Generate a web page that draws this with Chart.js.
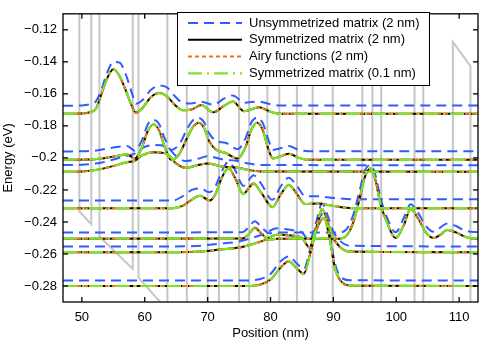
<!DOCTYPE html>
<html>
<head>
<meta charset="utf-8">
<script src="https://cdn.jsdelivr.net/npm/chart.js@4.4.1/dist/chart.umd.min.js"></script>
<style>
  html, body { margin: 0; padding: 0; background: #fff; }
  #wrap { width: 485px; height: 341px; }
</style>
</head>
<body>
<div id="wrap"><canvas id="chart" width="485" height="341"></canvas></div>
<script>
// axis ticks
const xTicks = [50, 60, 70, 80, 90, 100, 110];
const xTickLabels = ['50', '60', '70', '80', '90', '100', '110'];
const yTicks = [-0.28, -0.26, -0.24, -0.22, -0.2, -0.18, -0.16, -0.14, -0.12];
const yTickLabels = ['\u22120.28', '\u22120.26', '\u22120.24', '\u22120.22', '\u22120.2', '\u22120.18', '\u22120.16', '\u22120.14', '\u22120.12'];

const seriesNames = ['Unsymmetrized matrix (2 nm)', 'Symmetrized matrix (2 nm)', 'Airy functions (2 nm)', 'Symmetrized matrix (0.1 nm)'];

// conduction band profile (vertices)
const potX = [47, 49.6, 49.6, 51.5, 51.5, 52.8, 52.8, 58.1, 58.1, 59.0, 59.0, 63.6, 63.6, 66.7, 66.7, 70.0, 70.0, 71.8, 71.8, 75.0, 75.0, 76.6, 76.6, 79.5, 79.5, 81.4, 81.4, 84.2, 84.2, 86.7, 86.7, 89.9, 89.9, 94.6, 94.6, 96.2, 96.2, 97.6, 97.6, 102.9, 102.9, 104.3, 104.3, 109.0, 109.0, 111.8, 111.8, 113];
const potY = [0.05, 0.04, -0.2335, -0.2414, 0.03, 0.03, -0.2491, -0.2693, 0.01, 0.01, -0.2748, -0.2950, 0.0, 0.0, -0.31, -0.32, -0.01, -0.01, -0.33, -0.34, -0.02, -0.02, -0.35, -0.36, -0.03, -0.03, -0.37, -0.38, -0.04, -0.05, -0.39, -0.40, -0.06, -0.07, -0.42, -0.43, -0.08, -0.08, -0.44, -0.46, -0.10, -0.10, -0.47, -0.49, -0.1275, -0.1427, -0.50, -0.51];

// states: position, fine/symmetrized/airy curve, unsymmetrized curve
const s1X = [47, 50, 51.5, 52.2, 53.0, 54.0, 55.0, 56.0, 57.0, 58.0, 58.6, 59.6, 61.0, 62.3, 63.6, 64.8, 66.0, 67.3, 69.0, 70.9, 72.6, 74.0, 75.8, 78.2, 80.0, 81.5, 113];
const s1Y = [-0.1725, -0.1723, -0.1712, -0.1695, -0.1615, -0.1505, -0.1447, -0.1490, -0.1580, -0.1680, -0.1718, -0.1690, -0.1620, -0.1595, -0.1618, -0.1670, -0.1702, -0.1700, -0.1670, -0.1715, -0.1675, -0.1648, -0.1708, -0.1684, -0.1712, -0.1725, -0.1725];
const s1U = [-0.1675, -0.1672, -0.1662, -0.1648, -0.1585, -0.1470, -0.1400, -0.1405, -0.1480, -0.1600, -0.1662, -0.1640, -0.1575, -0.1548, -0.1562, -0.1615, -0.1655, -0.1660, -0.1650, -0.1668, -0.1630, -0.1610, -0.1655, -0.1648, -0.1665, -0.1672, -0.1672];

const s2X = [47, 52, 55.0, 57.2, 58.4, 59.5, 60.5, 61.4, 62.3, 63.2, 64.2, 65.5, 66.8, 67.8, 68.6, 69.4, 70.3, 71.4, 72.8, 74.8, 76.0, 77.0, 77.9, 78.8, 79.7, 80.4, 81.6, 82.9, 84.5, 86.0, 113];
const s2Y = [-0.2012, -0.2008, -0.1992, -0.1978, -0.2005, -0.1940, -0.1830, -0.1792, -0.1830, -0.1935, -0.2012, -0.1975, -0.1870, -0.1800, -0.1780, -0.1810, -0.1900, -0.1950, -0.1968, -0.2004, -0.1935, -0.1820, -0.1781, -0.1830, -0.1950, -0.2004, -0.1990, -0.1974, -0.2000, -0.2012, -0.2012];
const s2U = [-0.1960, -0.1955, -0.1935, -0.1925, -0.1955, -0.1895, -0.1790, -0.1762, -0.1790, -0.1880, -0.1950, -0.1915, -0.1815, -0.1760, -0.1750, -0.1775, -0.1850, -0.1895, -0.1905, -0.1945, -0.1880, -0.1775, -0.1748, -0.1785, -0.1890, -0.1950, -0.1940, -0.1925, -0.1950, -0.1958, -0.1958];

const s3X = [47, 50, 53, 55.5, 57.3, 58.3, 59.5, 61.5, 63.5, 65.0, 66.5, 68.5, 70.0, 72.5, 74.5, 76.5, 78.5, 113];
const s3Y = [-0.2087, -0.2085, -0.2070, -0.2045, -0.2025, -0.2020, -0.1985, -0.1965, -0.1975, -0.2035, -0.2062, -0.2045, -0.2035, -0.2055, -0.2060, -0.2075, -0.2085, -0.2087];
const s3U = [-0.2045, -0.2043, -0.2030, -0.2005, -0.1985, -0.1975, -0.1940, -0.1920, -0.1930, -0.1990, -0.2020, -0.2005, -0.1990, -0.2010, -0.2018, -0.2035, -0.2044, -0.2046];

const s4X = [47, 64.5, 66.0, 67.5, 68.8, 70.3, 71.2, 72.3, 73.3, 74.3, 75.7, 76.5, 77.3, 78.5, 80.3, 81.6, 82.9, 84.2, 85.5, 87.5, 90.0, 93.0, 113];
const s4Y = [-0.2314, -0.2314, -0.2300, -0.2260, -0.2237, -0.2266, -0.2230, -0.2120, -0.2065, -0.2120, -0.2226, -0.2190, -0.2160, -0.2215, -0.2308, -0.2230, -0.2170, -0.2225, -0.2288, -0.2285, -0.2300, -0.2314, -0.2314];
const s4U = [-0.2266, -0.2266, -0.2240, -0.2200, -0.2190, -0.2215, -0.2180, -0.2080, -0.2025, -0.2070, -0.2175, -0.2140, -0.2108, -0.2160, -0.2262, -0.2180, -0.2124, -0.2175, -0.2238, -0.2240, -0.2250, -0.2258, -0.2258];

const s5X = [47, 75.5, 76.6, 77.5, 78.5, 79.8, 81.0, 91.0, 92.2, 93.2, 94.2, 95.0, 95.9, 96.7, 97.5, 98.5, 99.9, 101.2, 102.3, 103.5, 104.8, 106.0, 107.0, 108.1, 109.5, 110.8, 112, 113];
const s5Y = [-0.2505, -0.2503, -0.2475, -0.2437, -0.2470, -0.2512, -0.2505, -0.2505, -0.2480, -0.2400, -0.2250, -0.2120, -0.2066, -0.2140, -0.2290, -0.2400, -0.2501, -0.2420, -0.2319, -0.2380, -0.2470, -0.2501, -0.2480, -0.2450, -0.2465, -0.2490, -0.2503, -0.2505];
const s5U = [-0.2466, -0.2464, -0.2430, -0.2395, -0.2430, -0.2470, -0.2466, -0.2466, -0.2440, -0.2350, -0.2200, -0.2080, -0.2045, -0.2110, -0.2250, -0.2370, -0.2465, -0.2375, -0.2290, -0.2345, -0.2430, -0.2462, -0.2435, -0.2410, -0.2425, -0.2452, -0.2462, -0.2464];

const s6X = [47, 65, 69, 72, 75, 77, 79, 81, 83.3, 85.0, 86.2, 87.2, 88.2, 89.1, 90.0, 91.0, 92.5, 113];
const s6Y = [-0.2589, -0.2589, -0.2584, -0.2572, -0.2560, -0.2540, -0.2515, -0.2480, -0.2485, -0.2500, -0.2560, -0.2450, -0.2320, -0.2400, -0.2500, -0.2555, -0.2585, -0.2589];
const s6U = [-0.2553, -0.2553, -0.2548, -0.2535, -0.2522, -0.2500, -0.2475, -0.2440, -0.2450, -0.2465, -0.2520, -0.2410, -0.2285, -0.2360, -0.2460, -0.2515, -0.2548, -0.2553];

const s7X = [47, 76, 78.5, 80.0, 81.5, 82.9, 84.2, 85.3, 86.3, 87.3, 88.5, 89.4, 90.2, 91.0, 92.7, 113];
const s7Y = [-0.2800, -0.2800, -0.2790, -0.2760, -0.2690, -0.2645, -0.2690, -0.2724, -0.2600, -0.2450, -0.2375, -0.2500, -0.2680, -0.2760, -0.2798, -0.2800];
const s7U = [-0.2766, -0.2766, -0.2755, -0.2725, -0.2650, -0.2615, -0.2660, -0.2695, -0.2570, -0.2420, -0.2345, -0.2470, -0.2650, -0.2735, -0.2764, -0.2766];

const states = [
  [s1X, s1Y, s1U], [s2X, s2Y, s2U], [s3X, s3Y, s3U], [s4X, s4Y, s4U],
  [s5X, s5Y, s5U], [s6X, s6Y, s6U], [s7X, s7Y, s7U]
];

const BLUE = '#2f5cff';
const BLACK = '#000000';
const ORANGE = '#ff6a14';
const GREEN = '#7ee322';
const GRAY = '#c6c6c6';

const styles = [
  { color: BLUE, dash: [10, 6], width: 2 },
  { color: BLACK, dash: [], width: 2 },
  { color: ORANGE, dash: [4, 3], width: 2 },
  { color: GREEN, dash: [14, 5, 2, 5], width: 2.2 }
];

const pts = (xs, ys) => xs.map((x, i) => ({ x: x, y: ys[i] }));

// chart.js paints dataset 0 last, so collect bottom-up and reverse
const layers = [];
layers.push({
  data: pts(potX, potY), borderColor: GRAY, borderWidth: 2,
  pointRadius: 0, tension: 0, fill: false
});
styles.forEach((st, k) => {
  states.forEach(s => {
    const ys = k === 0 ? s[2] : s[1];
    layers.push({
      data: pts(s[0], ys),
      borderColor: st.color,
      borderDash: st.dash,
      borderWidth: st.width,
      pointRadius: 0,
      cubicInterpolationMode: 'monotone',
      fill: false
    });
  });
});
const datasets = layers.reverse();

const line = (ctx, x1, y1, x2, y2) => {
  ctx.beginPath(); ctx.moveTo(x1, y1); ctx.lineTo(x2, y2); ctx.stroke();
};

// box with inward ticks, like the original
const framePlugin = {
  id: 'frame',
  afterDatasetsDraw(chart) {
    const { ctx, chartArea: a, scales: { x, y } } = chart;
    ctx.save();
    ctx.strokeStyle = '#000';
    ctx.lineWidth = 1.3;
    ctx.setLineDash([]);
    ctx.strokeRect(a.left, a.top, a.right - a.left, a.bottom - a.top);
    xTicks.forEach(v => {
      const px = x.getPixelForValue(v);
      line(ctx, px, a.bottom, px, a.bottom - 5);
      line(ctx, px, a.top, px, a.top + 5);
    });
    yTicks.forEach(v => {
      const py = y.getPixelForValue(v);
      line(ctx, a.left, py, a.left + 5, py);
      line(ctx, a.right, py, a.right - 5, py);
    });
    ctx.restore();
  }
};

const legendPlugin = {
  id: 'boxLegend',
  afterDraw(chart) {
    const ctx = chart.ctx;
    const bx = 177, by = 12, bw = 252, bh = 73;
    ctx.save();
    ctx.fillStyle = '#fff';
    ctx.fillRect(bx, by, bw, bh);
    ctx.strokeStyle = '#000';
    ctx.lineWidth = 1;
    ctx.setLineDash([]);
    ctx.strokeRect(bx + 0.5, by + 0.5, bw, bh);
    ctx.font = '13px "Liberation Sans", Arial, sans-serif';
    ctx.textBaseline = 'middle';
    seriesNames.forEach((name, i) => {
      const ry = by + 11 + i * 16.8;
      const st = styles[i];
      ctx.strokeStyle = st.color;
      ctx.lineWidth = st.width;
      ctx.setLineDash(st.dash);
      line(ctx, 188, ry, 242, ry);
      ctx.setLineDash([]);
      ctx.fillStyle = '#000';
      ctx.fillText(name, 249, ry);
    });
    ctx.restore();
  }
};

Chart.defaults.font.family = '"Liberation Sans", Arial, Helvetica, sans-serif';
Chart.defaults.font.size = 13;
Chart.defaults.color = '#000';

new Chart(document.getElementById('chart'), {
  type: 'line',
  data: { datasets: datasets },
  options: {
    responsive: false,
    devicePixelRatio: 1,
    animation: false,
    events: [],
    layout: { padding: { top: 7, right: 7, left: 0, bottom: 0 } },
    plugins: { legend: { display: false }, tooltip: { enabled: false } },
    scales: {
      x: {
        type: 'linear', min: 47, max: 113,
        afterBuildTicks: s => { s.ticks = xTicks.map(v => ({ value: v })); },
        afterFit: s => { s.height = 39; },
        grid: { display: false, drawTicks: false },
        border: { display: false },
        ticks: {
          padding: 8, maxRotation: 0, autoSkip: false,
          callback: v => xTickLabels[xTicks.indexOf(v)]
        },
        title: { display: true, text: 'Position (nm)', padding: { top: 0, bottom: 0 } }
      },
      y: {
        type: 'linear', min: -0.29, max: -0.11,
        afterBuildTicks: s => { s.ticks = yTicks.map(v => ({ value: v })); },
        afterFit: s => { s.width = 63; },
        grid: { display: false, drawTicks: false },
        border: { display: false },
        ticks: {
          padding: 6, autoSkip: false,
          callback: v => yTickLabels[yTicks.indexOf(v)]
        },
        title: { display: true, text: 'Energy (eV)', padding: { top: 1, bottom: 0 } }
      }
    }
  },
  plugins: [framePlugin, legendPlugin]
});
</script>
</body>
</html>
